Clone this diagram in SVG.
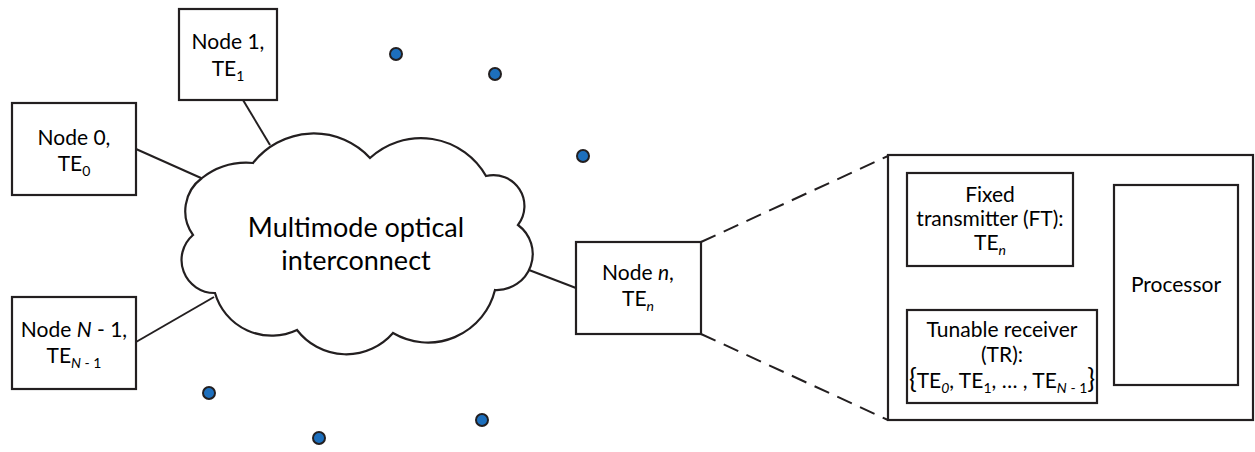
<svg xmlns="http://www.w3.org/2000/svg" width="1255" height="452" viewBox="0 0 1255 452">
  <style>
    .box { fill: #ffffff; stroke: #231f20; stroke-width: 2.2; }
    .link { fill: none; stroke: #231f20; stroke-width: 2; }
    .dash { fill: none; stroke: #231f20; stroke-width: 2; stroke-dasharray: 16 9; }
    .dot { fill: #1d6fbd; stroke: #231f20; stroke-width: 2; }
    .lbl { font-family: "Lato", "Carlito", "Liberation Sans", sans-serif; font-size: 21px; fill: #000000; text-anchor: middle; }
    .big { font-size: 27px; }
    .sub { font-size: 14px; }
    .it { font-style: italic; }
    .brace { font-size: 26px; }
  </style>

  <!-- connectors between nodes and the interconnect -->
  <g id="connectors">
    <line class="link" x1="136" y1="149" x2="201" y2="178"/>
    <line class="link" x1="243" y1="100" x2="270" y2="145"/>
    <line class="link" x1="136" y1="342" x2="214" y2="297"/>
    <line class="link" x1="529" y1="270" x2="576" y2="288"/>
    <line class="dash" x1="701" y1="242" x2="888" y2="156"/>
    <line class="dash" x1="701" y1="334" x2="888" y2="420"/>
  </g>

  <!-- interconnect cloud -->
  <g id="cloud">
    <path class="box" d="M 202,178 A 73 73 0 0 1 253,163 A 77 77 0 0 1 370,158 A 75 75 0 0 1 486,176 A 31 31 0 0 1 518,225 A 36 36 0 0 1 495,290 A 69 69 0 0 1 393,333 A 62 62 0 0 1 297,330 A 59 59 0 0 1 215,293 A 33 33 0 0 1 193,235 A 41 41 0 0 1 202,178 Z"/>
    <text class="lbl big" x="356" y="237">Multimode optical</text>
    <text class="lbl big" x="356" y="270">interconnect</text>
  </g>

  <g id="node-1">
    <rect class="box" x="179" y="9" width="98" height="91"/>
    <text class="lbl" x="228" y="49">Node 1,</text>
    <text class="lbl" x="228" y="76">TE<tspan class="sub" dy="5">1</tspan></text>
  </g>

  <g id="node-0">
    <rect class="box" x="12" y="103" width="124" height="92"/>
    <text class="lbl" x="74" y="145">Node 0,</text>
    <text class="lbl" x="74" y="171">TE<tspan class="sub" dy="5">0</tspan></text>
  </g>

  <g id="node-n-minus-1">
    <rect class="box" x="12" y="297" width="124" height="92"/>
    <text class="lbl" x="74" y="337">Node <tspan class="it">N</tspan> - 1,</text>
    <text class="lbl" x="74" y="363">TE<tspan class="sub" dy="5"><tspan class="it">N</tspan> - 1</tspan></text>
  </g>

  <g id="node-n">
    <rect class="box" x="576" y="242" width="125" height="92"/>
    <text class="lbl" x="638" y="280">Node <tspan class="it">n</tspan>,</text>
    <text class="lbl" x="638" y="306">TE<tspan class="sub it" dy="5">n</tspan></text>
  </g>

  <!-- expanded view of node n -->
  <g id="node-n-detail">
    <rect class="box" x="888" y="155" width="365" height="265"/>
  </g>

  <g id="fixed-transmitter">
    <rect class="box" x="907" y="173" width="166" height="93"/>
    <text class="lbl" x="990" y="202">Fixed</text>
    <text class="lbl" x="990" y="226">transmitter (FT):</text>
    <text class="lbl" x="990" y="250">TE<tspan class="sub it" dy="5">n</tspan></text>
  </g>

  <g id="tunable-receiver">
    <rect class="box" x="907" y="310" width="190" height="93"/>
    <text class="lbl" x="1002" y="337">Tunable receiver</text>
    <text class="lbl" x="1002" y="362">(TR):</text>
    <text class="lbl" x="1002" y="388"><tspan class="brace">{</tspan>TE<tspan class="sub it" dy="5">0</tspan><tspan dy="-5">, TE</tspan><tspan class="sub" dy="5">1</tspan><tspan dy="-5">, … , TE</tspan><tspan class="sub" dy="5"><tspan class="it">N</tspan> - 1</tspan><tspan class="brace" dy="-5">}</tspan></text>
  </g>

  <g id="processor">
    <rect class="box" x="1114" y="185" width="124" height="200"/>
    <text class="lbl" x="1176" y="292">Processor</text>
  </g>

  <!-- scattered terminals -->
  <g id="terminals">
    <circle class="dot" cx="396" cy="54" r="6"/>
    <circle class="dot" cx="495" cy="74" r="6"/>
    <circle class="dot" cx="583" cy="156" r="6"/>
    <circle class="dot" cx="209" cy="393" r="6"/>
    <circle class="dot" cx="319" cy="438" r="6"/>
    <circle class="dot" cx="482" cy="420" r="6"/>
  </g>
</svg>
